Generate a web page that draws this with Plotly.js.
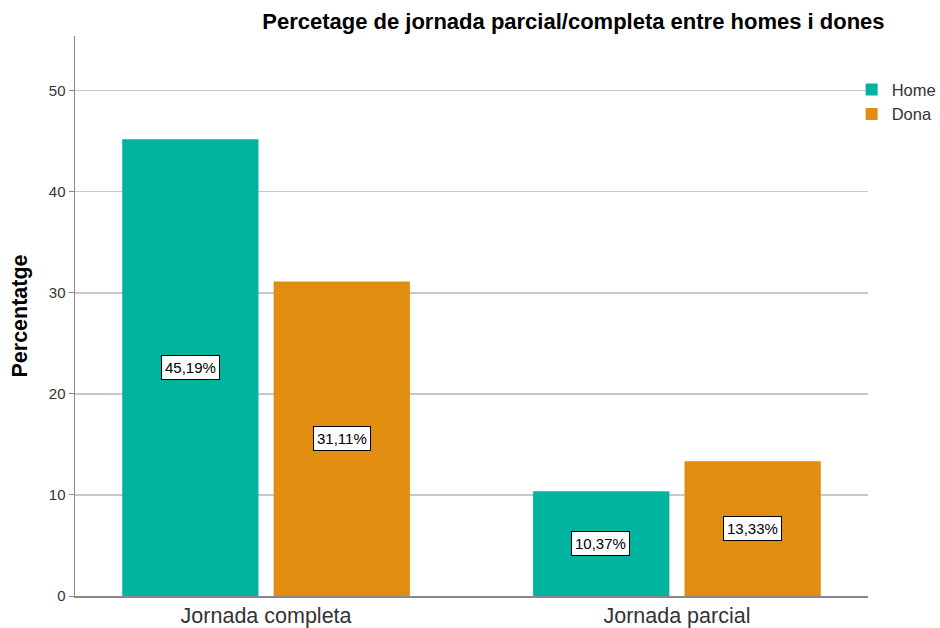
<!DOCTYPE html>
<html>
<head>
<meta charset="utf-8">
<script src="https://cdn.plot.ly/plotly-3.0.1.min.js"></script>
<style>html,body{margin:0;padding:0;background:#fff;}#chart{width:940px;height:628px;}</style>
</head>
<body>
<div id="chart"></div>
<script>
const categories = ["Jornada completa", "Jornada parcial"];
const seriesNames = ["Home", "Dona"];
const homeValues = [45.19, 10.37];
const donaValues = [31.11, 13.33];
const homeLabels = ["45,19%", "10,37%"];
const donaLabels = ["31,11%", "13,33%"];
const yTicks = [0, 10, 20, 30, 40, 50];

const colors = ["#00B4A0", "#E18D10"];
const seriesValues = [homeValues, donaValues];
const seriesLabels = [homeLabels, donaLabels];

const traces = seriesNames.map((n, i) => ({
  type: "bar",
  name: n,
  x: categories,
  y: seriesValues[i],
  marker: {color: colors[i], line: {width: 0}},
  hoverinfo: "none"
}));

const annotations = [];
seriesValues.forEach((vals, i) => {
  vals.forEach((v, j) => {
    annotations.push({
      x: categories[j], y: v / 2, xref: "x", yref: "y",
      xshift: i === 0 ? -76 : 76,
      text: seriesLabels[i][j], showarrow: false,
      font: {family: "Liberation Sans, Arial, sans-serif", size: 15, color: "#000"},
      bgcolor: "#fff", bordercolor: "#000", borderwidth: 1, borderpad: 3
    });
  });
});

const layout = {
  width: 940, height: 628,
  margin: {l: 75, r: 72, t: 36, b: 32, autoexpand: false},
  paper_bgcolor: "#fff", plot_bgcolor: "#fff",
  font: {family: "Liberation Sans, Arial, sans-serif", color: "#222"},
  title: {
    text: "<b>Percetage de jornada parcial/completa entre homes i dones</b>",
    font: {size: 22, color: "#000"},
    x: 0.61, xanchor: "center", y: 0.966, yanchor: "middle", xref: "container", yref: "container"
  },
  barmode: "group",
  bargap: 0.263,
  bargroupgap: 0.1,
  xaxis: {
    type: "category",
    range: [-0.465, 1.465],
    showline: true, linecolor: "#888", linewidth: 1.5,
    ticks: "", showgrid: false,
    tickfont: {size: 21.5, color: "#333"},
    fixedrange: true
  },
  yaxis: {
    range: [0, 55.4],
    tickvals: yTicks,
    ticktext: yTicks.map(String),
    showline: true, linecolor: "#888", linewidth: 1.5,
    ticks: "outside", ticklen: 5, tickcolor: "#888",
    showgrid: true, gridcolor: "#c8c8c8", gridwidth: 1.5,
    zeroline: false,
    tickfont: {size: 15, color: "#333"},
    title: {text: "<b>Percentatge</b>", font: {size: 21.5, color: "#000"}, standoff: 15},
    fixedrange: true
  },
  legend: {
    xref: "container", yref: "container",
    x: 0.906, xanchor: "left", y: 0.885, yanchor: "top",
    font: {size: 16.5, color: "#333"},
    tracegroupgap: 0, itemwidth: 30,
    bgcolor: "rgba(0,0,0,0)"
  },
  annotations: annotations,
  showlegend: true
};

Plotly.newPlot("chart", traces, layout, {displayModeBar: false, staticPlot: true});
</script>
</body>
</html>
